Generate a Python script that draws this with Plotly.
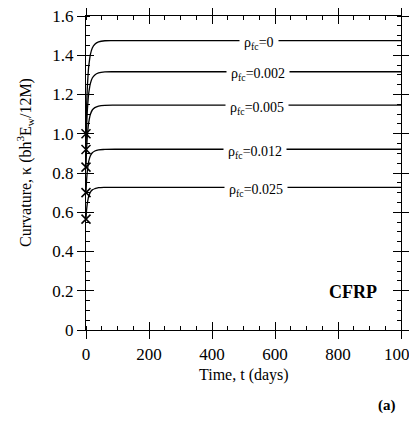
import plotly.graph_objects as go

# Time (days)
t_days = [0, 1, 2, 4, 6, 8, 10, 14, 20, 28, 40, 60, 100, 1000]

# Curvature for each FRP ratio
k_rho_0 = [1.000, 1.081, 1.143, 1.228, 1.285, 1.333, 1.361, 1.404, 1.437, 1.456, 1.468, 1.474, 1.475, 1.475]
k_rho_0002 = [0.920, 0.987, 1.039, 1.110, 1.158, 1.197, 1.221, 1.257, 1.284, 1.300, 1.310, 1.315, 1.316, 1.316]
k_rho_0005 = [0.830, 0.884, 0.925, 0.982, 1.020, 1.051, 1.070, 1.099, 1.121, 1.133, 1.141, 1.145, 1.146, 1.146]
k_rho_0012 = [0.700, 0.738, 0.766, 0.806, 0.833, 0.855, 0.868, 0.888, 0.903, 0.912, 0.918, 0.920, 0.921, 0.921]
k_rho_0025 = [0.565, 0.593, 0.614, 0.643, 0.662, 0.678, 0.688, 0.703, 0.714, 0.720, 0.725, 0.727, 0.727, 0.727]

series = [k_rho_0, k_rho_0002, k_rho_0005, k_rho_0012, k_rho_0025]
labels = ["0", "0.002", "0.005", "0.012", "0.025"]
label_t = [550, 546, 542, 536, 540]

x_ticks = [0, 200, 400, 600, 800, 1000]
y_ticks = [0, 0.2, 0.4, 0.6, 0.8, 1.0, 1.2, 1.4, 1.6]
y_ticktext = ["0", "0.2", "0.4", "0.6", "0.8", "1.0", "1.2", "1.4", "1.6"]

FONT = "Liberation Serif"

fig = go.Figure()
for ys in series:
    fig.add_trace(go.Scatter(x=t_days, y=ys, mode="lines", line=dict(color="black", width=1.3, shape="spline"),
                             showlegend=False, hoverinfo="skip"))
# initial values marked with x at t=0
fig.add_trace(go.Scatter(x=[t_days[0]] * len(series), y=[s[0] for s in series], mode="markers",
                         marker=dict(symbol="x-thin-open", size=9, color="black",
                                     line=dict(color="black", width=1.5)),
                         showlegend=False, hoverinfo="skip", cliponaxis=False))
# invisible trace for overlay axes (inside ticks)
fig.add_trace(go.Scatter(x=[0], y=[0], xaxis="x2", yaxis="y2", mode="markers",
                         marker=dict(opacity=0), showlegend=False, hoverinfo="skip"))

for lab, tx, ys in zip(labels, label_t, series):
    fig.add_annotation(x=tx, y=ys[-1], text="ρ<sub>fc</sub>=" + lab, showarrow=False,
                       font=dict(family=FONT, size=14, color="black"), bgcolor="white",
                       borderpad=4, xanchor="center", yanchor="middle", yshift=-3)

fig.add_annotation(x=848, y=0.195, text="<b>CFRP</b>", showarrow=False,
                   font=dict(family=FONT, size=18, color="black"))
fig.add_annotation(x=0.956, y=-0.239, xref="paper", yref="paper", text="<b>(a)</b>", showarrow=False,
                   xanchor="center", yanchor="middle",
                   font=dict(family=FONT, size=15, color="black"))
# axis titles
fig.add_annotation(x=-0.194, y=0.535, xref="paper", yref="paper", textangle=-90,
                   text="Curvature, κ (bh<sup>3</sup>E<sub>w</sub>/12M)", showarrow=False,
                   xanchor="center", yanchor="middle", font=dict(family=FONT, size=16, color="black"))
fig.add_annotation(x=0.5, y=-0.143, xref="paper", yref="paper",
                   text="Time, t (days)", showarrow=False,
                   xanchor="center", yanchor="middle", font=dict(family=FONT, size=16, color="black"))

axis_common = dict(showgrid=False, zeroline=False, showline=True, linecolor="black", linewidth=1.2,
                   tickcolor="black", tickwidth=1.2, automargin=False)

fig.update_layout(
    width=417, height=405,
    margin=dict(l=78, r=24, t=8, b=83),
    paper_bgcolor="white", plot_bgcolor="white",
    font=dict(family=FONT, size=17, color="black"),
    xaxis=dict(range=[0, 1000], tickvals=x_ticks, ticks="outside", ticklen=8, mirror="ticks",
               ticklabeloverflow="allow",
               minor=dict(ticks="inside", dtick=50, ticklen=4, tickcolor="black", tickwidth=1),
               tickfont=dict(family=FONT, size=17), **axis_common),
    yaxis=dict(range=[0, 1.6], tickvals=y_ticks, ticktext=y_ticktext, ticks="outside", ticklen=8, mirror="ticks",
               ticklabeloverflow="allow",
               minor=dict(ticks="inside", dtick=0.05, ticklen=4, tickcolor="black", tickwidth=1),
               tickfont=dict(family=FONT, size=17), **axis_common),
    xaxis2=dict(overlaying="x", anchor="y2", matches="x", tickvals=x_ticks, ticks="inside", ticklen=8,
                mirror="ticks", showticklabels=False, **axis_common),
    yaxis2=dict(overlaying="y", anchor="x2", matches="y", tickvals=y_ticks, ticks="inside", ticklen=8,
                mirror="ticks", showticklabels=False, **axis_common),
)

fig.write_html("out.html")
